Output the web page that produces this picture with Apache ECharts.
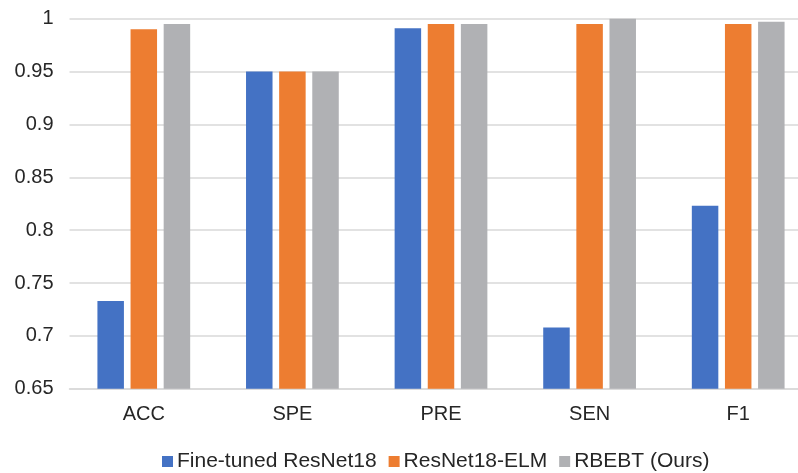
<!DOCTYPE html>
<html>
<head>
<meta charset="utf-8">
<script src="https://cdn.jsdelivr.net/npm/echarts@6/dist/echarts.min.js"></script>
<style>html,body{margin:0;padding:0;background:#fff;overflow:hidden;width:798px;height:473px;}#c{width:830px;height:473px;}</style>
</head>
<body>
<div id="c"></div>
<script>
var categories = ['ACC', 'SPE', 'PRE', 'SEN', 'F1'];
var seriesNames = ['Fine-tuned ResNet18', 'ResNet18-ELM', 'RBEBT (Ours)'];
var fineTuned = [0.733, 0.950, 0.991, 0.708, 0.823];
var resnetElm = [0.990, 0.950, 0.995, 0.995, 0.995];
var rbebt = [0.995, 0.950, 0.995, 1.000, 0.997];
var yTicks = [0.65, 0.7, 0.75, 0.8, 0.85, 0.9, 0.95, 1];
var colors = ['#4472c4', '#ed7d31', '#b0b1b4'];

var chart = echarts.init(document.getElementById('c'), null, {renderer: 'canvas'});
var font = 'Liberation Sans, Arial, Helvetica, sans-serif';
var dataSets = [fineTuned, resnetElm, rbebt];
chart.setOption({
  animation: false,
  color: colors,
  grid: {left: 69.5, top: 18.7, width: 743, height: 370, containLabel: false},
  legend: {
    top: 446, left: 157,
    itemWidth: 11, itemHeight: 11, itemGap: 12,
    icon: 'rect',
    textStyle: {fontFamily: font, fontSize: 21, color: '#262626', padding: [0, 0, 0, -1]},
    data: seriesNames
  },
  xAxis: {
    type: 'category', data: categories,
    axisLine: {lineStyle: {color: '#d9d9d9', width: 1.5}},
    axisTick: {show: false},
    axisLabel: {fontFamily: font, fontSize: 20, color: '#262626', margin: 16}
  },
  yAxis: {
    type: 'value', min: 0.65, max: 1, interval: 0.05,
    axisLine: {show: false}, axisTick: {show: false},
    splitLine: {lineStyle: {color: '#d9d9d9', width: 1.5}},
    axisLabel: {fontFamily: font, fontSize: 20, color: '#262626', margin: 16,
      formatter: function (v) { var r = Math.round(v * 100) / 100; return yTicks.indexOf(r) >= 0 ? String(r) : ''; }}
  },
  series: seriesNames.map(function (n, i) {
    return {name: n, type: 'bar', data: dataSets[i], barWidth: 26.5, barGap: '25%'};
  })
});
</script>
</body>
</html>
